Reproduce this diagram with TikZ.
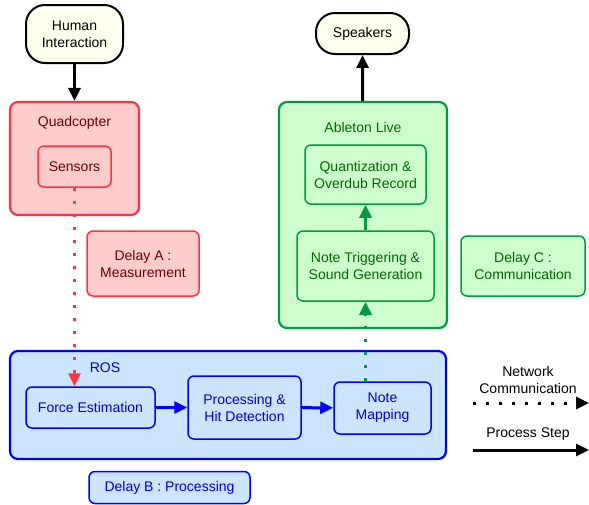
\documentclass[tikz,border=0pt]{standalone}
\usepackage{fontspec}
\setmainfont{Liberation Sans}
\usetikzlibrary{arrows.meta}
\definecolor{redfill}{HTML}{FFCCCC}
\definecolor{redline}{HTML}{FF3344}
\definecolor{redtext}{HTML}{660000}
\definecolor{greenfill}{HTML}{CCFFCC}
\definecolor{greenline}{HTML}{009944}
\definecolor{greentext}{HTML}{006600}
\definecolor{bluefill}{HTML}{CCE5FF}
\definecolor{blueline}{HTML}{0000FF}
\definecolor{bluetext}{HTML}{0000CC}
\definecolor{termfill}{HTML}{FFFFEE}
\begin{document}
\begin{tikzpicture}[x=1pt, y=-1pt,
    every node/.style={font=\fontsize{14}{17}\selectfont, align=center, inner sep=0pt},
    term/.style={draw=black, fill=termfill, line width=2pt, rounded corners=19pt},
    redbox/.style={draw=redline, fill=redfill, text=redtext, line width=1.5pt, rounded corners=6pt},
    greenbox/.style={draw=greenline, fill=greenfill, text=greentext, line width=1.5pt, rounded corners=6pt},
    bluebox/.style={draw=blueline, fill=bluefill, text=bluetext, line width=1.5pt, rounded corners=6pt},
    group/.style={line width=2.2pt, rounded corners=8pt},
    flow/.style={-{Triangle[length=13pt,width=12pt]}, line width=3pt},
    net/.style={-{Triangle[length=13pt,width=12pt]}, line width=3pt, dash pattern=on 3pt off 10pt}]
    \useasboundingbox (0,0) rectangle (589,504);

    % end points
    \node[term, minimum width=97pt, minimum height=58pt] (human) at (74.5,34) {Human\\Interaction};
    \node[term, minimum width=93pt, minimum height=41pt] (speakers) at (362.5,33.5) {Speakers};

    % quadcopter
    \node[redbox, group, minimum width=129pt, minimum height=113pt] (quad) at (74.5,158.5) {};
    \node[text=redtext] (quadlbl) at (74.5,123) {Quadcopter};
    \node[redbox, minimum width=73pt, minimum height=41pt] (sensors) at (74.5,166.5) {Sensors};
    \node[redbox, minimum width=112pt, minimum height=65pt] (delayA) at (143,263.5) {Delay A :\\Measurement};

    % ableton
    \node[greenbox, group, minimum width=168pt, minimum height=226pt] (ableton) at (363,215) {};
    \node[text=greentext] (abletonlbl) at (363,127) {Ableton Live};
    \node[greenbox, minimum width=121pt, minimum height=59pt] (quant) at (365.5,174.5) {Quantization \&\\Overdub Record};
    \node[greenbox, minimum width=137pt, minimum height=70pt] (trigger) at (365.5,266) {Note Triggering \&\\Sound Generation};
    \node[greenbox, minimum width=124pt, minimum height=60pt] (delayC) at (523,266) {Delay C :\\Communication};

    % ROS
    \node[bluebox, group, minimum width=436pt, minimum height=108pt] (ros) at (228,405) {};
    \node[text=bluetext] (roslbl) at (105,368) {ROS};
    \node[bluebox, minimum width=129pt, minimum height=41pt] (force) at (90.5,407.5) {Force Estimation};
    \node[bluebox, minimum width=113pt, minimum height=63pt] (proc) at (244.5,407.5) {Processing \&\\Hit Detection};
    \node[bluebox, minimum width=97pt, minimum height=52pt] (mapping) at (382.5,408) {Note\\Mapping};
    \node[bluebox, minimum width=161pt, minimum height=32pt] (delayB) at (169.5,487.5) {Delay B : Processing};

    % legend
    \node (netlbl) at (528,379.5) {Network\\Communication};
    \node (steplbl) at (528,434) {Process Step};
    \coordinate (net0) at (473,403);
    \coordinate (net1) at (589,403);
    \coordinate (step0) at (473,450);
    \coordinate (step1) at (589,450);

    % connectors
    \draw[flow] (human) -- (quad);
    \draw[flow] (ableton) -- (speakers);
    \draw[flow, greenline] (trigger) -- (quant);
    \draw[flow, blueline] (force) -- (proc);
    \draw[flow, blueline] (proc) -- (mapping);
    \draw[net, redline] (sensors.south) -- (sensors.south |- force.north);
    \draw[net, greenline] (trigger.south |- mapping.north) -- (trigger.south);
    \draw[net] (net0) -- (net1);
    \draw[flow] (step0) -- (step1);
\end{tikzpicture}
\end{document}
